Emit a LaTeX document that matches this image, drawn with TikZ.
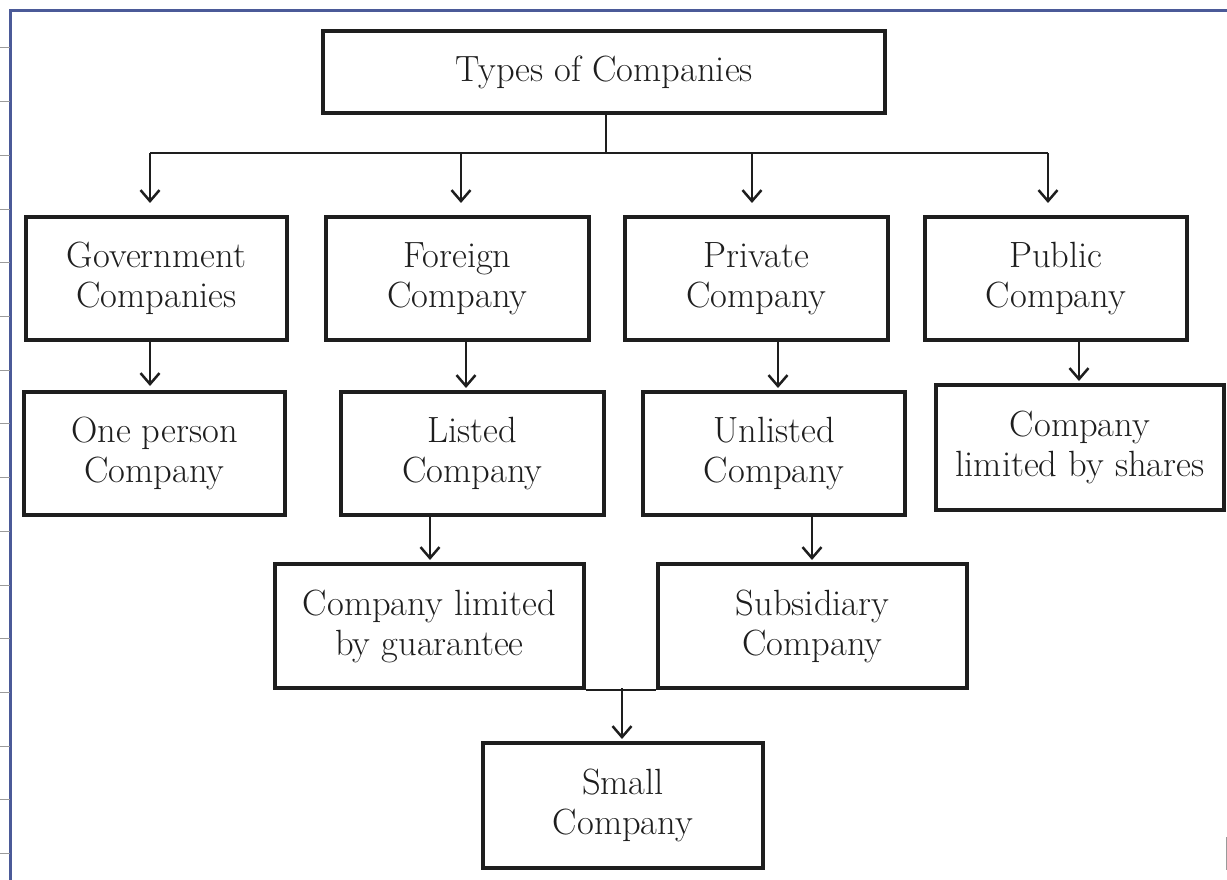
\documentclass[tikz,border=0pt]{standalone}
\usetikzlibrary{arrows.meta,calc}
\definecolor{ink}{HTML}{1E1E1E}
\definecolor{frameblue}{HTML}{4B5A98}
\definecolor{tickgray}{HTML}{9A9A9A}
\begin{document}
\begin{tikzpicture}[x=1pt,y=-1pt,
  box/.style={draw=ink, line width=4pt, minimum height=123pt, inner sep=0pt,
    align=center, text=ink, font=\fontsize{36.5}{40}\selectfont},
  link/.style={draw=ink, line width=2.5pt},
  arr/.style={link, -{Straight Barb[length=11pt,width=19pt,line width=2.5pt]}},
  frameline/.style={draw=frameblue, line width=3pt},
  tickline/.style={draw=tickgray, line width=1pt}]
\useasboundingbox (0,0) rectangle (1227,880);

% sheet frame and ruler ticks
\draw[frameline] (10,880) -- (10,11) -- (1227,11);
\foreach \k in {0,...,15}
  \draw[tickline] (0,{48+53.7*\k}) -- (10,{48+53.7*\k});
\draw[tickline] (1226,837) -- (1226,870);

% boxes
\node[box, minimum width=562pt, minimum height=82pt] (top) at (604,72) {Types of Companies};

\node[box, minimum width=261pt] (gov) at (156.5,278.5) {Government\\Companies};
\node[box, minimum width=263pt] (foreign) at (457.5,278.5) {Foreign\\Company};
\node[box, minimum width=263pt] (private) at (756.5,278.5) {Private\\Company};
\node[box, minimum width=262pt] (public) at (1056,278.5) {Public\\Company};

\node[box, minimum width=261pt] (one) at (154.5,453.5) {One person\\Company};
\node[box, minimum width=263pt] (listed) at (472.5,453.5) {Listed\\Company};
\node[box, minimum width=262pt] (unlisted) at (774,453.5) {Unlisted\\Company};
\node[box, minimum width=288pt, minimum height=125pt] (shares) at (1080,447.5) {Company\\limited by shares};

\node[box, minimum width=309pt, minimum height=124pt] (guarantee) at (429.5,626) {Company limited\\by guarantee};
\node[box, minimum width=309pt, minimum height=124pt] (subsidiary) at (812.5,626) {Subsidiary\\Company};

\node[box, minimum width=280pt, minimum height=125pt] (small) at (623,805.5) {Small\\Company};

% branching bus from the top box
\coordinate (b1) at (150,153);
\coordinate (b2) at (461,153);
\coordinate (b3) at (752,153);
\coordinate (b4) at (1048,153);
\draw[link] (top.south -| 606,0) -- (606,153);
\draw[link] (b1) -- (b4);
\draw[arr, shorten >=12pt] (b1) -- (b1 |- gov.north);
\draw[arr, shorten >=12pt] (b2) -- (b2 |- foreign.north);
\draw[arr, shorten >=12pt] (b3) -- (b3 |- private.north);
\draw[arr, shorten >=12pt] (b4) -- (b4 |- public.north);

% second row to third row
\coordinate (c1) at (150,0);
\coordinate (c2) at (466,0);
\coordinate (c3) at (778,0);
\coordinate (c4) at (1079,0);
\draw[arr, shorten >=4pt] (c1 |- gov.south) -- (c1 |- one.north);
\draw[arr, shorten >=2pt] (c2 |- foreign.south) -- (c2 |- listed.north);
\draw[arr, shorten >=2pt] (c3 |- private.south) -- (c3 |- unlisted.north);
\draw[arr, shorten >=2pt] (c4 |- public.south) -- (c4 |- shares.north);

% third row to fourth row
\coordinate (d1) at (430,0);
\coordinate (d2) at (812,0);
\draw[arr, shorten >=2pt] (d1 |- listed.south) -- (d1 |- guarantee.north);
\draw[arr, shorten >=2pt] (d2 |- unlisted.south) -- (d2 |- subsidiary.north);

% joint link into the small company box
\coordinate (e) at (622,688);
\draw[link] (guarantee.south east) -- (subsidiary.south west);
\draw[arr, shorten >=2pt] (e) -- (e |- small.north);
\end{tikzpicture}
\end{document}
